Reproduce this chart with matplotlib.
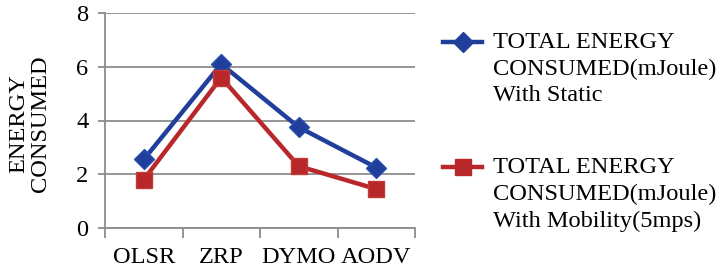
import numpy as np
import matplotlib
matplotlib.use("Agg")
import matplotlib.pyplot as plt
from matplotlib.lines import Line2D

# protocols on the x axis
protocols = ["OLSR", "ZRP", "DYMO", "AODV"]

# energy consumed (mJoule)
energy_static = [2.55, 6.1, 3.75, 2.25]
energy_mobility = [1.8, 5.6, 2.3, 1.45]

label_static = "TOTAL ENERGY\nCONSUMED(mJoule)\nWith Static"
label_mobility = "TOTAL ENERGY\nCONSUMED(mJoule)\nWith Mobility(5mps)"

blue = "#1f3f9a"
red = "#b8282b"
grid_col = "#8c8c8c"
fs = 17.6

plt.rcParams["font.family"] = ["Liberation Serif", "DejaVu Serif"]

fig = plt.figure(figsize=(7.2, 2.75), dpi=100)
ax = fig.add_axes([105 / 720, 1 - 228 / 275, 310 / 720, 215 / 275])

x = np.arange(len(protocols))
ax.plot(x, energy_static, color=blue, lw=3.2, marker="D", ms=10,
        markeredgecolor="#2a4fb0", zorder=3)
ax.plot(x, energy_mobility, color=red, lw=3.2, marker="s", ms=11,
        markeredgecolor="#c23a3a", zorder=3)

ax.set_xlim(-0.5, len(protocols) - 0.5)
ax.set_ylim(0, 8)
ax.set_yticks([0, 2, 4, 6, 8])
ax.yaxis.grid(True, color=grid_col, lw=1.3)
ax.set_axisbelow(True)

# category labels centred, tick marks between categories
ax.set_xticks(np.arange(-0.5, len(protocols), 1.0))
ax.set_xticklabels([])
ax.set_xticks(x, minor=True)
ax.set_xticklabels(protocols, minor=True, fontsize=fs)
ax.tick_params(axis="x", which="minor", length=0, pad=14)
ax.tick_params(axis="x", which="major", length=7, color=grid_col, width=1.3)
ax.tick_params(axis="y", length=5, color=grid_col, width=1.3, labelsize=fs, pad=7)

for s in ["top", "right"]:
    ax.spines[s].set_visible(False)
for s in ["left", "bottom"]:
    ax.spines[s].set_color(grid_col)
    ax.spines[s].set_linewidth(1.3)

fig.text(30 / 720, 1 - 124 / 275, "ENERGY\nCONSUMED", rotation=90,
         ha="center", va="center", multialignment="center", fontsize=fs,
         linespacing=1.05)

# legend drawn by hand so the handle sits on the first text line
for y_px, col, mk, ms, lab in [(42, blue, "D", 10, label_static),
                               (167, red, "s", 11, label_mobility)]:
    yf = 1 - y_px / 275
    fig.add_artist(Line2D([443 / 720, 482 / 720], [yf, yf], color=col, lw=3.2,
                          transform=fig.transFigure))
    fig.add_artist(Line2D([462.5 / 720], [yf], color=col, marker=mk, ms=ms,
                          transform=fig.transFigure))
    fig.text(493 / 720, 1 - (y_px - 10) / 275, lab, ha="left", va="top",
             fontsize=fs, linespacing=1.35)

fig.savefig("out.png", dpi=100)
